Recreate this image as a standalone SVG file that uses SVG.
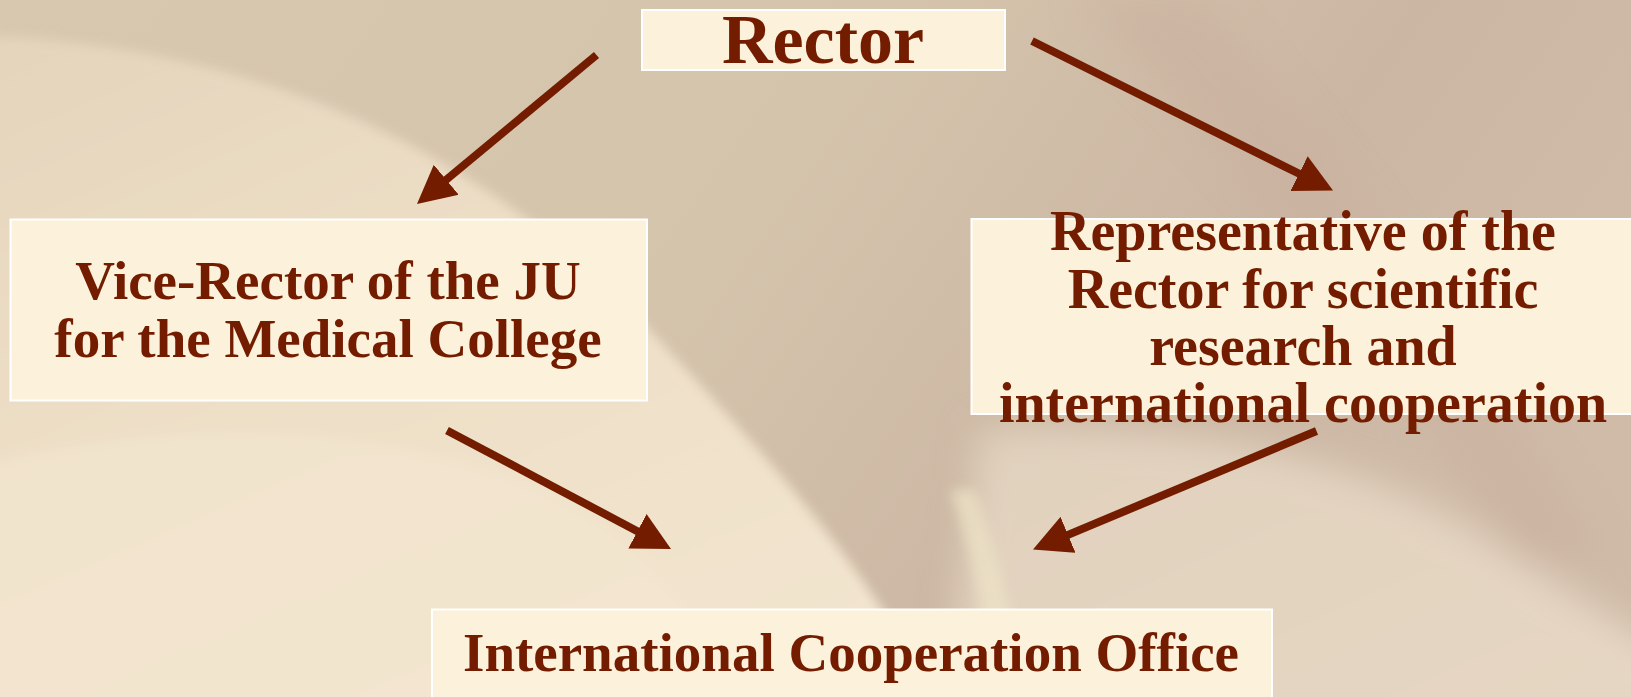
<svg xmlns="http://www.w3.org/2000/svg" width="1631" height="697" viewBox="0 0 1631 697">
  <defs>
    <linearGradient id="bg" x1="0" y1="0" x2="1" y2="0.3">
      <stop offset="0" stop-color="#D8C8B0"/>
      <stop offset="0.5" stop-color="#D5C4AC"/>
      <stop offset="0.8" stop-color="#CBB6A3"/>
      <stop offset="1" stop-color="#CFBBA8"/>
    </linearGradient>
    <linearGradient id="light" x1="0" y1="0" x2="0.6" y2="1">
      <stop offset="0" stop-color="#E4D4BC"/>
      <stop offset="0.5" stop-color="#EEDFC7"/>
      <stop offset="1" stop-color="#F2E4CE"/>
    </linearGradient>
    <linearGradient id="lowright" x1="0" y1="0" x2="1" y2="1">
      <stop offset="0" stop-color="#E0D1BD"/>
      <stop offset="1" stop-color="#E6D7C4"/>
    </linearGradient>
    <filter id="soft" x="-10%" y="-10%" width="120%" height="120%">
      <feGaussianBlur stdDeviation="18"/>
    </filter>
    <filter id="soft2" x="-20%" y="-20%" width="140%" height="140%">
      <feGaussianBlur stdDeviation="6"/>
    </filter>
    <marker id="ah" viewBox="0 -20 40 40" refX="2" refY="0" markerWidth="40" markerHeight="40" markerUnits="userSpaceOnUse" orient="auto">
      <path d="M0,-19.5 L38,0 L0,19.5 Z" fill="#731C00"/>
    </marker>
    <style>
      .box { fill: #FCF1DA; stroke: #FFFFFF; stroke-width: 2; }
      .lbl { font-family: "Liberation Serif", "DejaVu Serif", serif; font-weight: bold; fill: #731C00; text-anchor: middle; }
      .conn { stroke: #731C00; stroke-width: 8; fill: none; marker-end: url(#ah); }
    </style>
  </defs>

  <g id="background">
    <rect x="0" y="0" width="1631" height="697" fill="url(#bg)"/>
    <g filter="url(#soft)">
      <path d="M980,430 C1150,420 1350,440 1520,560 L1680,660 L1680,760 L940,760 Z" fill="url(#lowright)"/>
      <path d="M1080,0 C1200,120 1320,250 1420,420 L1520,560 L1600,560 C1500,380 1350,180 1200,0 Z" fill="#C9B09E" opacity="0.6"/>
    </g>
    <g filter="url(#soft2)">
      <path d="M-40,35 C250,40 480,150 640,320 C780,470 900,600 960,760 L-40,760 Z" fill="url(#light)"/>
      <path d="M-40,470 C150,420 350,420 520,480 C620,520 720,620 780,760 L-40,760 Z" fill="#F4E7D2" opacity="0.55"/>
      <path d="M950,490 C975,560 990,640 995,760 L1030,760 C1020,630 1000,560 975,490 Z" fill="#EDE3C6" opacity="0.7"/>
    </g>
  </g>

  <g id="connectors">
    <line class="conn" x1="596.5" y1="55" x2="444.7" y2="181"/>
    <line class="conn" x1="1032" y1="41" x2="1300.8" y2="174.5"/>
    <line class="conn" x1="447" y1="430.5" x2="639.2" y2="532.2"/>
    <line class="conn" x1="1316.5" y1="431" x2="1066.2" y2="535.6"/>
  </g>

  <g id="rector">
    <rect class="box" x="642" y="10" width="363" height="60"/>
    <text class="lbl" x="823" y="63" font-size="70">Rector</text>
  </g>

  <g id="vice-rector">
    <rect class="box" x="10.5" y="219.5" width="636.5" height="181"/>
    <text class="lbl" x="328" y="299" font-size="55">Vice-Rector of the JU</text>
    <text class="lbl" x="328" y="357" font-size="55">for the Medical College</text>
  </g>

  <g id="representative">
    <rect class="box" x="971.5" y="219" width="662" height="195"/>
    <text class="lbl" x="1303" y="250" font-size="56">Representative of the</text>
    <text class="lbl" x="1303" y="307.5" font-size="56">Rector for scientific</text>
    <text class="lbl" x="1303" y="365" font-size="56">research and</text>
    <text class="lbl" x="1303" y="422" font-size="56">international cooperation</text>
  </g>

  <g id="international-office">
    <rect class="box" x="432" y="609.5" width="840" height="92"/>
    <text class="lbl" x="851" y="671" font-size="55">International Cooperation Office</text>
  </g>
</svg>
